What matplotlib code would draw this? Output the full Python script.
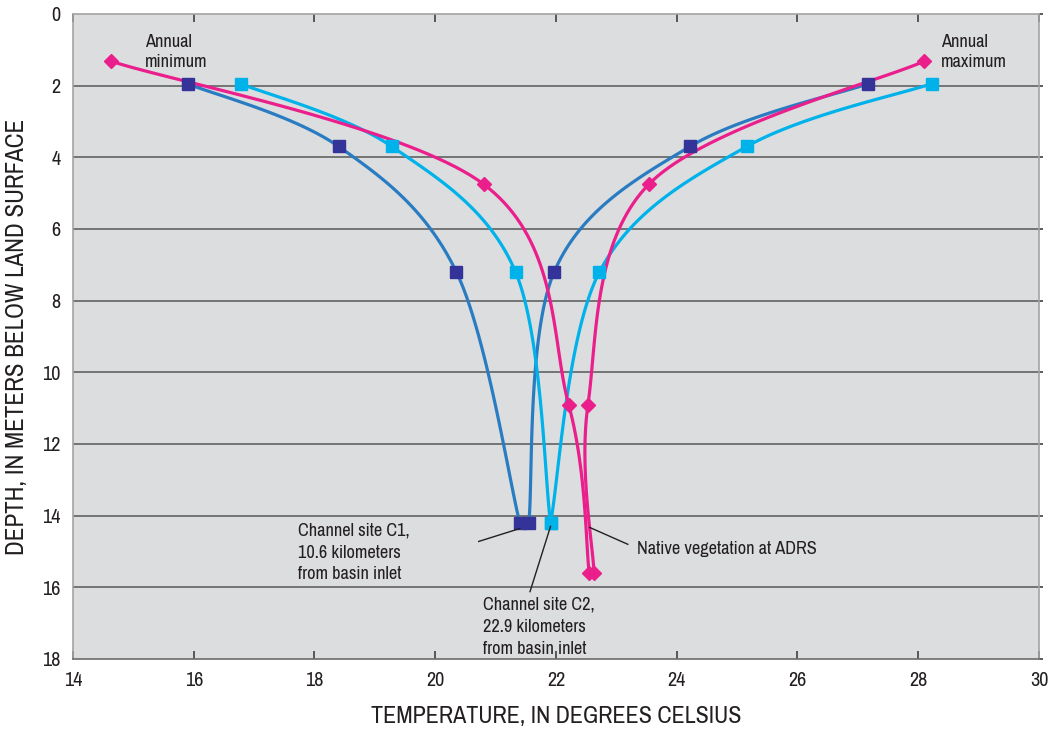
import matplotlib
matplotlib.use('Agg')
import matplotlib.pyplot as plt
from matplotlib import font_manager
import numpy as np

# Temperature (deg C) and depth (m) of annual minimum and maximum profiles
c1_min_temp = [15.9, 18.4, 20.35, 21.4]
c1_min_depth = [1.95, 3.7, 7.2, 14.2]
c1_max_temp = [21.55, 21.97, 24.22, 27.17]
c1_max_depth = [14.2, 7.2, 3.7, 1.95]

c2_min_temp = [16.78, 19.28, 21.33, 21.91]
c2_min_depth = [1.95, 3.7, 7.2, 14.2]
c2_max_temp = [21.91, 22.72, 25.16, 28.22]
c2_max_depth = [14.2, 7.2, 3.7, 1.95]

nv_min_temp = [14.63, 20.8, 22.21, 22.55]
nv_min_depth = [1.32, 4.75, 10.9, 15.6]
nv_max_temp = [22.63, 22.53, 23.54, 28.1]
nv_max_depth = [15.6, 10.9, 4.75, 1.32]

x_ticks = list(range(14, 31, 2))
y_ticks = list(range(0, 19, 2))

narrow = [f.name for f in font_manager.fontManager.ttflist
          if 'Narrow' in f.name or 'Condensed' in f.name]
font_name = narrow[0] if narrow else 'DejaVu Sans'
plt.rcParams['font.family'] = [font_name, 'DejaVu Sans']
plt.rcParams['font.stretch'] = 'condensed'

fig = plt.figure(figsize=(10.5, 7.31), dpi=100)
ax = fig.add_axes([0.0695, 0.0985, 0.92, 0.8825])
ax.set_facecolor('#dcdddf')
ax.set_xlim(14, 30)
ax.set_ylim(18, 0)


def smooth_curve(ax, xs, ys, n=40):
    # Catmull-Rom through the points, computed in display space
    pts = ax.transData.transform(np.column_stack([xs, ys]))
    out = []
    m = len(pts)
    for i in range(m - 1):
        p0 = pts[max(i - 1, 0)]
        p1 = pts[i]
        p2 = pts[i + 1]
        p3 = pts[min(i + 2, m - 1)]
        c1 = p1 + (p2 - p0) / 6.0
        c2 = p2 - (p3 - p1) / 6.0
        t = np.linspace(0, 1, n)[:, None]
        seg = ((1 - t) ** 3 * p1 + 3 * (1 - t) ** 2 * t * c1
               + 3 * (1 - t) * t ** 2 * c2 + t ** 3 * p2)
        out.append(seg if i == 0 else seg[1:])
    curve = ax.transData.inverted().transform(np.vstack(out))
    return curve[:, 0], curve[:, 1]


series = [
    (c1_min_temp, c1_min_depth, '#2a7cc2', '#333399', 's', 9),
    (c1_max_temp, c1_max_depth, '#2a7cc2', '#333399', 's', 9),
    (c2_min_temp, c2_min_depth, '#00b2ea', '#00b2ea', 's', 9),
    (c2_max_temp, c2_max_depth, '#00b2ea', '#00b2ea', 's', 9),
    (nv_min_temp, nv_min_depth, '#ea1f8c', '#ea1f8c', 'D', 7),
    (nv_max_temp, nv_max_depth, '#ea1f8c', '#ea1f8c', 'D', 7),
]

for xs, ys, lc, mc, mk, ms in series:
    sx, sy = smooth_curve(ax, xs, ys)
    ax.plot(sx, sy, color=lc, lw=2.3, zorder=3, solid_capstyle='round')
    ax.plot(xs, ys, ls='none', marker=mk, ms=ms, color=mc,
            markeredgecolor=mc, zorder=4)

# horizontal grid at each depth tick
for y in y_ticks[1:-1]:
    ax.axhline(y, color='#6b6b6b', lw=1.3, zorder=1)

ax.set_xticks(x_ticks)
ax.set_yticks(y_ticks)
ax.tick_params(axis='x', direction='in', top=True, length=6, width=1.2,
               color='#404040', labelsize=14.5, pad=9)
ax.tick_params(axis='y', direction='out', left=False, right=True, length=3,
               width=1.2, color='#404040', labelsize=14.5, pad=6)
for lab in ax.get_xticklabels() + ax.get_yticklabels():
    lab.set_fontweight('semibold')
    lab.set_color('#231f20')
for side in ax.spines.values():
    side.set_color('#a3a3a3')
    side.set_linewidth(1.2)
ax.spines['bottom'].set_color('#6b6b6b')

ax.set_xlabel('TEMPERATURE, IN DEGREES CELSIUS', fontsize=17.3, labelpad=11,
              color='#231f20')
ax.set_ylabel('DEPTH, IN METERS BELOW LAND SURFACE', fontsize=18,
              labelpad=10, color='#231f20')

txt = dict(fontsize=13.2, color='#231f20', zorder=5)
ax.text(15.19, 1.06, 'Annual\nminimum', ha='left', va='center',
        linespacing=1.25, **txt)
ax.text(28.37, 1.06, 'Annual\nmaximum', ha='left', va='center',
        linespacing=1.25, **txt)
ax.text(17.72, 15.03, 'Channel site C1,\n10.6 kilometers\nfrom basin inlet',
        ha='left', va='center', linespacing=1.45, **txt)
ax.text(20.79, 17.1, 'Channel site C2,\n22.9 kilometers\nfrom basin inlet',
        ha='left', va='center', linespacing=1.45, **txt)
ax.text(23.34, 14.92, 'Native vegetation at ADRS', ha='left', va='center',
        **txt)

lead = dict(color='#231f20', lw=1.0, zorder=5)
ax.plot([20.72, 21.4], [14.72, 14.36], **lead)
ax.plot([21.57, 21.91], [16.12, 14.3], **lead)
ax.plot([23.19, 22.56], [14.8, 14.33], **lead)

fig.savefig('out.png', dpi=100)
